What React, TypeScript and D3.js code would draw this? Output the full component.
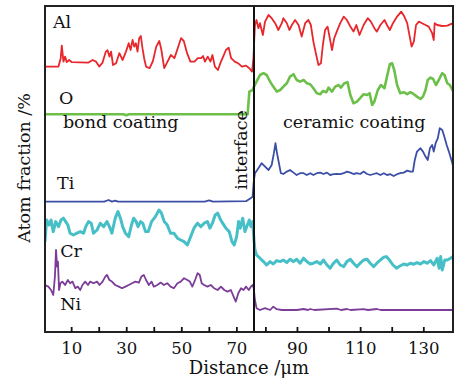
import React, { useEffect, useRef } from 'react';
import * as d3 from 'd3';

type Pt = [number, number];

// distance (um) vs stacked atom fraction (offset units)
const alData: Pt[] = [
  [0.5,132.7],[5.4,132.7],[6.2,136.9],[6.6,143.2],[7.2,135.2],[7.8,137.7],[8.4,134.9],[9.3,136],[10.2,134.9],[16.3,134.7],[17.8,136],[19.0,135.2],[20.2,132.7],[21.4,134.7],[22.6,140.2],[23.2,140.9],[23.9,137.7],[24.5,140.2],[25.2,133.5],[26.3,134.4],[27.5,139.4],[28.7,136],[29.9,140.2],[30.9,144.4],[31.6,141],[32.3,146],[32.9,142.7],[33.5,144.4],[34.1,140.2],[34.7,146.9],[35.3,148],[35.9,141.9],[36.5,136.9],[37.2,132.7],[38.5,131.9],[39.7,135.5],[40.9,142.7],[42.0,145.5],[42.7,141.5],[43.8,131.9],[45.0,135.2],[46.2,138.5],[47.5,136.9],[48.7,141.9],[49.9,146.9],[50.9,145.5],[52.1,139.4],[53.3,135.2],[54.8,135.2],[56.0,136.9],[57.2,136.9],[57.9,138],[58.6,135.2],[59.6,137.7],[60.6,135.2],[61.3,138.5],[62.2,132.7],[63.3,131],[64.4,135.2],[65.2,137.7],[66.2,141],[67.2,142.2],[68.1,136.9],[69.4,135.2],[70.6,134.4],[72.0,132.7],[73.5,133.2],[74.7,131.9],[75.7,130.2],[76.2,136.9],
  [76.4,143.5],[76.7,153.5],[77.2,156],[77.8,151.9],[78.3,154.4],[79.2,148.5],[79.9,155.2],[81.0,158.5],[82.0,156.9],[83.1,154.4],[84.1,151],[85.2,154.4],[85.7,156.9],[86.8,154.4],[87.6,151],[88.4,153.5],[89.4,156],[90.5,153.5],[91.5,147.7],[92.6,154.4],[93.6,156],[94.4,153.5],[95.2,145.2],[96.1,138.5],[96.8,133.5],[97.6,134.4],[98.2,143.5],[98.9,151],[99.7,152.7],[100.3,147.7],[101.1,141],[101.8,146.9],[102.6,150.2],[103.7,154.4],[104.8,157.7],[105.8,156],[106.9,152.7],[107.9,150.2],[108.8,153.5],[109.8,148.5],[111.1,153.5],[112.4,156.9],[113.4,155.2],[114.5,151.9],[115.3,150.2],[116.4,153.5],[117.7,156],[118.5,153.5],[119.4,151],[120.4,154.4],[121.7,157.7],[123.0,160.2],[124.0,157.7],[124.9,154.4],[125.7,147.7],[126.3,142.7],[127.0,145.2],[127.7,153.5],[128.6,155.2],[129.6,154.4],[130.7,153.5],[131.7,152.7],[132.8,149.4],[133.3,146],[133.6,154.4],[134.4,153.5],[136.0,153],[137.6,153.2],[139.4,154.4]
];

const oData: Pt[] = [
  [0.5,108.9],[29,108.9],[30,108.4],[31,108.9],[74.1,108.9],[74.7,120.2],[75.9,121],
  [76.4,122.7],[77.2,125.2],[78.3,128.5],[79.4,129.4],[80.4,128.5],[81.5,125.2],[82.5,122.7],[83.6,120.2],[84.7,121],[85.7,122.7],[86.8,124.4],[87.8,127.7],[88.9,128.9],[89.9,126],[91.0,125.2],[92.1,126],[93.1,124.4],[94.2,123.9],[95.2,121.9],[96.3,119.4],[97.4,118.9],[98.2,120.5],[99.3,119.9],[100.0,122.2],[101.1,120.2],[102.1,122.7],[103.2,123.5],[103.9,122.2],[105.0,124.4],[106.0,124.9],[106.9,118.5],[107.9,114.4],[109.0,115.2],[110.0,116.9],[111.1,118.9],[112.2,118.5],[113.0,119.4],[113.8,113.5],[114.5,115.2],[115.6,121],[116.6,123.5],[117.7,121.9],[118.5,127.7],[119.4,133.9],[120.1,134.4],[120.8,131],[121.7,123.5],[122.7,119.4],[123.8,119.9],[124.9,118.9],[125.9,119.9],[127.0,118.9],[128.0,117.7],[129.1,116.5],[129.9,117.7],[130.7,121],[131.4,126],[132.3,127.2],[133.1,126.5],[134.0,123.5],[134.9,126],[136.0,129.4],[136.7,128.5],[137.6,124.4],[138.4,123.5],[139.4,120.5]
];

const tiData: Pt[] = [
  [0.5,65.2],[22,65.2],[23.6,66],[24.8,65.2],[26,65.7],[27,65.2],[58.5,65.2],[60.1,65.8],[61.5,65.2],[73.5,65.4],[75.3,67],[75.9,67.7],
  [76.3,75.2],[76.7,79.4],[77.8,81.9],[78.8,84.4],[79.9,82.7],[81.0,81],[82.0,83.5],[82.7,89.4],[83.2,94.4],[83.6,90.2],[84.1,86],[84.9,79.4],[85.7,79],[86.8,80.2],[87.8,81],[88.9,79.7],[89.9,78.5],[91.0,79.4],[92.1,79.4],[93.1,78.5],[94.2,79.4],[95.2,78.5],[96.3,79.4],[97.4,79.7],[98.4,79],[99.5,79.7],[100.5,78.5],[101.6,78.9],[102.6,79],[103.7,78.9],[104.8,79.4],[105.8,80.2],[106.9,79.7],[107.9,79],[109.0,79.4],[110.0,79],[111.1,80.2],[112.2,79],[113.2,78.5],[114.3,79],[115.3,79.4],[116.4,78.5],[117.5,79.4],[118.5,78.5],[119.6,78.9],[120.6,78],[121.7,78.9],[122.7,79.4],[123.8,79.7],[124.9,80.7],[125.9,80.2],[126.7,80.2],[127.3,86],[128.0,90.2],[129.1,91.9],[129.9,90.2],[130.7,87.7],[131.4,86],[132.1,91.9],[132.8,93.5],[133.3,90.2],[133.9,94.4],[134.6,96.9],[135.2,101.9],[136.0,101],[136.5,98.5],[137.4,93.5],[138.1,90.2],[139.2,84.4],[139.4,83]
];

const crData: Pt[] = [
  [0.5,45.2],[1.1,56],[2.0,53.5],[2.7,56],[3.5,50.2],[4.4,55.2],[5.4,52.7],[6.3,56],[7.2,56.9],[8.0,55.2],[8.8,53.5],[9.6,49.4],[10.8,48.5],[12.1,49.4],[13.3,50.2],[14.5,49.4],[15.3,52.7],[16.3,55.2],[17.3,54.4],[18.1,49.4],[19.4,51],[20.6,54.4],[21.8,52.7],[23.0,55.2],[23.9,52.7],[24.8,49.4],[26.0,56.9],[27.0,60.2],[27.9,56.9],[28.7,52.7],[29.7,49.4],[30.9,47.7],[31.9,53.5],[32.7,56.9],[33.6,55.2],[34.3,52.7],[35.2,55.2],[36.0,54.4],[37.0,50.2],[38.0,50.2],[39.2,55.2],[40.6,57.7],[41.9,61],[42.8,59.4],[43.8,55.2],[44.9,53.5],[46.1,49.4],[47.3,49.4],[48.6,46.9],[49.8,46],[51.0,45.2],[52.2,43.5],[53.4,47.7],[54.6,51.9],[55.9,54.4],[57.1,52.7],[58.3,54.4],[59.5,55.2],[60.4,51.9],[61.3,54.4],[62.3,58.5],[63.2,59.4],[64.0,56.9],[65.0,54.4],[66.2,51.9],[67.4,50.2],[68.4,45.2],[69.2,43.5],[70.1,47.7],[70.8,55.2],[71.4,51.9],[72.3,56.9],[73.1,50.2],[74.0,53.5],[74.7,56],[75.3,52.7],[75.9,55.2],[76.4,46],
  [76.7,41],[77.2,38.5],[78.3,36.9],[79.4,35.2],[80.4,33.5],[81.5,35.2],[82.5,34],[83.6,35.7],[84.7,35.2],[85.7,36],[86.8,34.7],[87.8,36.4],[88.9,35.2],[89.9,36.4],[91.0,34.4],[92.1,36.9],[93.1,35.2],[94.2,34],[95.2,34.4],[96.3,35.2],[97.4,34],[98.4,36],[99.5,33.5],[100.5,31.9],[101.6,34.4],[102.6,36],[103.7,33.5],[104.8,32.7],[105.8,35.2],[106.9,36.4],[107.9,34.4],[109.0,32.7],[110.0,34.4],[111.1,36],[112.2,36.4],[113.2,34.4],[114.3,32.7],[115.3,34.4],[116.4,36],[117.5,37.4],[118.3,37.7],[119.4,35.7],[120.4,33.5],[121.5,31.9],[122.6,33],[123.8,34],[124.9,33.5],[125.9,34.4],[127.0,33.9],[128.0,34.7],[129.1,34],[130.2,35.2],[131.2,34.4],[132.3,35.7],[133.3,33.5],[134.4,36.9],[135.0,31.9],[135.5,37.7],[136.0,31],[136.8,36],[137.6,36],[138.6,36.9],[139.4,37.7]
];

const niData: Pt[] = [
  [0.5,23.5],[1.7,22.7],[2.7,21],[3.5,18.5],[4.1,27.7],[4.5,41],[4.9,32.7],[5.2,35.2],[5.6,21],[6.1,24.4],[6.8,25.2],[7.8,23.5],[8.8,26],[9.6,24.4],[10.5,25.2],[11.5,21.9],[12.4,22.7],[13.3,21],[14.1,23.5],[15.1,25.2],[16.1,23.5],[16.9,25.2],[18.1,24.4],[19.4,25.2],[20.3,23.5],[21.4,25.2],[22.4,27.7],[23.0,28.5],[23.9,26],[24.8,25.2],[26.0,23.5],[27.3,22.7],[28.5,21.9],[29.7,22.7],[30.9,23.5],[32.1,24.4],[33.3,25.2],[34.6,24.7],[35.5,27.7],[36.4,28.5],[37.2,26],[38.2,23.5],[39.2,25.2],[40.0,22.7],[41.3,23.5],[42.5,24.7],[43.7,23.5],[44.9,24.4],[46.1,22.7],[47.3,21.9],[48.6,24.4],[49.8,25.2],[51.0,26.9],[52.2,26],[53.1,25.2],[54.0,22.7],[55.0,26],[55.9,29.4],[56.7,28.5],[57.4,24.4],[58.3,23.5],[59.5,22.7],[60.7,23.5],[61.9,21.9],[63.2,21],[64.4,22.7],[65.6,21],[66.8,20.2],[68.0,21],[69.0,17.7],[69.8,15.2],[70.7,19.4],[71.7,21.9],[72.6,21],[73.5,22.7],[74.5,21],[75.3,22.7],[75.9,23.5],[76.3,21.9],
  [76.7,16],[77.2,11.9],[78.3,11],[79.9,11.9],[81.5,11],[82.5,12.7],[83.6,11.4],[85.2,11],[90,11],[92.1,11.5],[93.5,11],[94.2,11.5],[95.5,11],[102.6,11.7],[104,11],[105.8,11.5],[107,11],[111.1,11.4],[112.5,11],[115.3,11.5],[116.5,11],[139.4,11]
];

const series = [
  { name: 'Al', data: alData, color: '#e8272c', width: 1.8 },
  { name: 'O', data: oData, color: '#6cc04a', width: 2.6 },
  { name: 'Ti', data: tiData, color: '#3c4fa6', width: 1.8 },
  { name: 'Cr', data: crData, color: '#47bfc7', width: 3 },
  { name: 'Ni', data: niData, color: '#7b3d98', width: 1.8 },
];

// label anchors in data coordinates
const labels: { text: string; at: Pt }[] = [
  { text: 'Al', at: [3.4, 152] },
  { text: 'O', at: [5.6, 114] },
  { text: 'bond coating', at: [7.0, 102] },
  { text: 'Ti', at: [4.9, 71.5] },
  { text: 'Cr', at: [6.0, 37.5] },
  { text: 'Ni', at: [6.0, 11] },
  { text: 'ceramic coating', at: [85.6, 102] },
];

const tickValues = d3.range(10, 140, 10);
const interfaceAt = 76.4;

const FONT = '"DejaVu Serif", serif';

const App: React.FC = () => {
  const svgRef = useRef<SVGSVGElement>(null);

  useEffect(() => {
    if (!svgRef.current) return;
    const svg = d3.select(svgRef.current);
    svg.selectAll('*').remove();

    const left = 45, right = 453, top = 6, bottom = 332;

    // the axis is stretched differently on both sides of the interface
    const x = d3.scaleLinear().domain([0.5, interfaceAt, 139.4]).range([left, 254, right]);
    const y = d3.scaleLinear().domain([0, 163]).range([bottom, top]);

    svg.append('defs').append('clipPath').attr('id', 'plot-clip')
      .append('rect')
      .attr('x', left).attr('y', top)
      .attr('width', right - left).attr('height', bottom - top);

    const line = d3.line<Pt>().x(d => x(d[0])).y(d => y(d[1]));

    const g = svg.append('g').attr('clip-path', 'url(#plot-clip)');
    series.forEach(s => {
      g.append('path')
        .datum(s.data)
        .attr('d', line)
        .attr('fill', 'none')
        .attr('stroke', s.color)
        .attr('stroke-width', s.width)
        .attr('stroke-linejoin', 'round');
    });

    // interface line
    svg.append('line')
      .attr('x1', x(interfaceAt)).attr('x2', x(interfaceAt))
      .attr('y1', top).attr('y2', bottom)
      .attr('stroke', '#111').attr('stroke-width', 2);

    // frame
    svg.append('rect')
      .attr('x', left).attr('y', top)
      .attr('width', right - left).attr('height', bottom - top)
      .attr('fill', 'none').attr('stroke', '#222').attr('stroke-width', 2);

    const xAxis = d3.axisBottom(x)
      .tickValues(tickValues)
      .tickSize(-5)
      .tickPadding(10)
      .tickFormat(d => ((+d - 10) % 20 === 0 ? String(d) : ''));

    const ax = svg.append('g')
      .attr('transform', `translate(0,${bottom})`)
      .call(xAxis);
    ax.select('.domain').remove();
    ax.selectAll('line').attr('stroke', '#111').attr('stroke-width', 1.8);
    ax.selectAll('text')
      .attr('fill', '#111')
      .style('font-family', FONT)
      .style('font-size', '16.5px');

    svg.append('g').selectAll('text')
      .data(labels)
      .enter()
      .append('text')
      .attr('x', d => x(d.at[0]))
      .attr('y', d => y(d.at[1]))
      .attr('fill', '#111')
      .style('font-family', FONT)
      .style('font-size', '17.5px')
      .text(d => d.text);

    svg.append('text')
      .attr('transform', `translate(${x(interfaceAt) - 7},150) rotate(-90)`)
      .attr('text-anchor', 'middle')
      .attr('fill', '#111')
      .style('font-family', FONT)
      .style('font-size', '17.5px')
      .text('interface');

    svg.append('text')
      .attr('x', (left + right) / 2 + 0)
      .attr('y', 374)
      .attr('text-anchor', 'middle')
      .attr('fill', '#111')
      .style('font-family', FONT)
      .style('font-size', '18px')
      .text('Distance /μm');

    svg.append('text')
      .attr('transform', `translate(30,168) rotate(-90)`)
      .attr('text-anchor', 'middle')
      .attr('fill', '#111')
      .style('font-family', FONT)
      .style('font-size', '17.5px')
      .text('Atom fraction /%');
  }, []);

  return (
    <svg
      ref={svgRef}
      width={462}
      height={380}
      style={{ position: 'absolute', left: 0, top: 0, background: '#fff' }}
    />
  );
};

export default App;
